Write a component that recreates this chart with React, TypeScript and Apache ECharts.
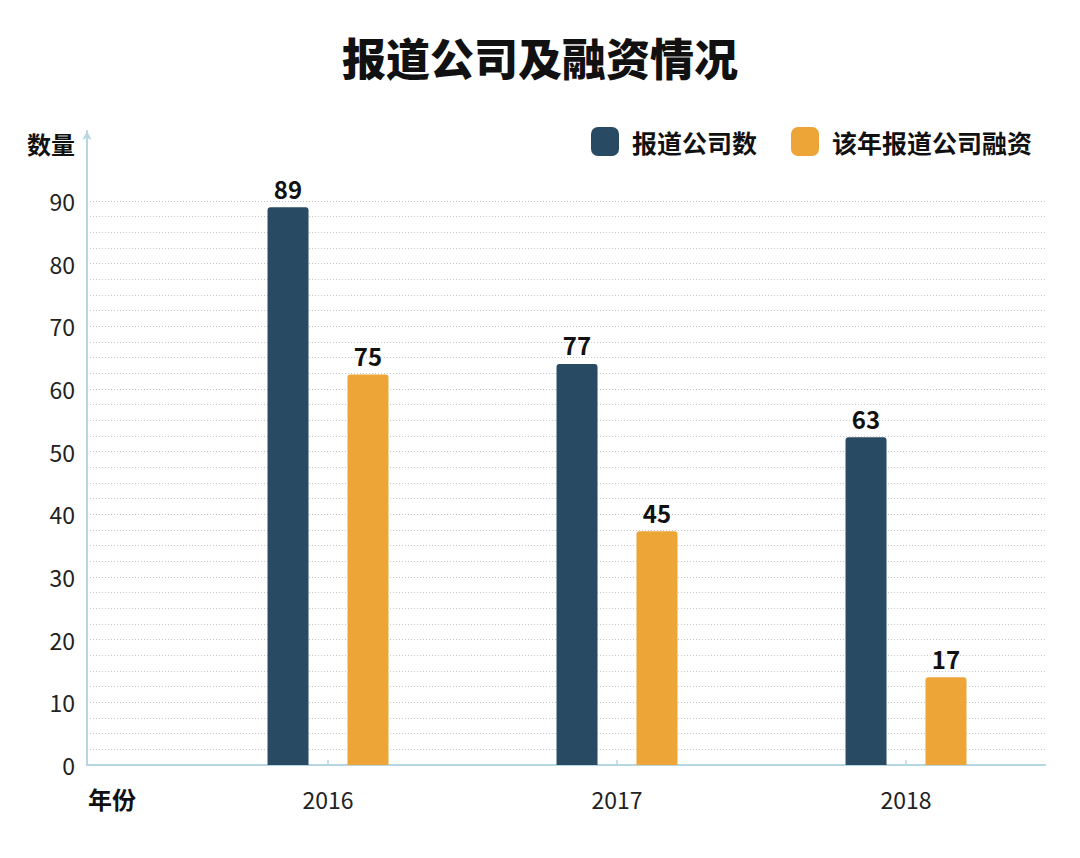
import React, { useEffect, useRef } from "react";
import * as echarts from "echarts";

const categories = ["2016", "2017", "2018"];
// bar heights as drawn in the picture
const companiesBar = [89, 64, 52.3];
const fundedBar = [62.3, 37.3, 14];
// values printed above the bars
const companiesLabel = [89, 77, 63];
const fundedLabel = [75, 45, 17];
const seriesNames = ["报道公司数", "该年报道公司融资"];
const yTicks = { min: 0, max: 90, interval: 10 };

const FONT = '"Noto Sans CJK SC", "Noto Sans", sans-serif';
const AXIS_COLOR = "#b7d6e4";
const DARK = "#284b63";
const ORANGE = "#eca536";

export default function App() {
  const ref = useRef<HTMLDivElement>(null);
  useEffect(() => {
    if (!ref.current) return;
    const chart = echarts.init(ref.current, null, { renderer: "svg" });
    const gridTop = 201;
    const gridBottom = 93;
    chart.setOption({
      animation: false,
      backgroundColor: "#ffffff",
      textStyle: { fontFamily: FONT },
      title: {
        text: "报道公司及融资情况",
        left: "center",
        top: 30,
        textStyle: { fontFamily: FONT, fontSize: 44, fontWeight: 900, color: "#111" },
      },
      legend: {
        right: 43,
        top: 122,
        itemWidth: 28,
        itemHeight: 29,
        itemGap: 34,
        icon: "roundRect",
        data: seriesNames,
        textStyle: { fontFamily: FONT, fontSize: 25, fontWeight: "bold", color: "#111", padding: [0, 0, 0, 8] },
      },
      graphic: [
        {
          type: "text",
          left: 88,
          top: 786,
          style: { text: "年份", font: `bold 24px ${FONT}`, fill: "#111" },
        },
      ],
      grid: [
        { left: 87, right: 35, top: 131, bottom: gridBottom },
        { left: 87, right: 35, top: gridTop, bottom: gridBottom },
        { left: 183.5, right: 29.5, top: gridTop, bottom: gridBottom },
      ],
      xAxis: [
        {
          gridIndex: 0, type: "value", min: 0, max: 1,
          axisLine: { show: true, lineStyle: { color: AXIS_COLOR, width: 2 } },
          axisTick: { show: false }, axisLabel: { show: false }, splitLine: { show: false },
        },
        {
          gridIndex: 1, type: "value", min: 0, max: 1, show: false,
        },
        {
          gridIndex: 2, type: "category", data: categories,
          axisLine: { show: false },
          axisTick: { show: true, inside: true, alignWithLabel: true, length: 5, lineStyle: { color: AXIS_COLOR, width: 1.5 } },
          axisLabel: { margin: 22, fontSize: 23, color: "#222", fontFamily: FONT },
        },
      ],
      yAxis: [
        {
          gridIndex: 0, type: "value", min: 0, max: 1,
          axisLine: { show: true, symbol: ["none", "arrow"], symbolSize: [7, 9], lineStyle: { color: AXIS_COLOR, width: 2 } },
          axisTick: { show: false }, axisLabel: { show: false }, splitLine: { show: false },
        },
        {
          gridIndex: 1, type: "value", min: yTicks.min, max: yTicks.max, interval: yTicks.interval,
          name: "数量",
          nameLocation: "end",
          nameGap: 46,
          nameTextStyle: { fontFamily: FONT, fontSize: 24, fontWeight: "bold", color: "#111", align: "right", padding: [0, 12, 0, 0] },
          axisLine: { show: false },
          axisTick: { show: false },
          axisLabel: { margin: 12, fontSize: 23, color: "#222", fontFamily: FONT },
          splitLine: { show: true, lineStyle: { color: "#c2c2c2", type: [1, 2], width: 1 } },
          minorTick: { show: false, splitNumber: 4 },
          minorSplitLine: { show: true, lineStyle: { color: "#c8c8c8", type: [1, 2], width: 1 } },
        },
        {
          gridIndex: 2, type: "value", min: yTicks.min, max: yTicks.max, show: false,
        },
      ],
      series: [
        {
          name: seriesNames[0],
          type: "bar",
          xAxisIndex: 2,
          yAxisIndex: 2,
          data: companiesBar,
          barWidth: 41,
          barGap: "95%",
          itemStyle: { color: DARK, borderRadius: [3, 3, 0, 0] },
          label: {
            show: true, position: "top", distance: 7,
            fontSize: 24, fontWeight: "bold", color: "#111", fontFamily: FONT,
            formatter: (p: any) => String(companiesLabel[p.dataIndex]),
          },
        },
        {
          name: seriesNames[1],
          type: "bar",
          xAxisIndex: 2,
          yAxisIndex: 2,
          data: fundedBar,
          barWidth: 41,
          barGap: "95%",
          itemStyle: { color: ORANGE, borderRadius: [3, 3, 0, 0] },
          label: {
            show: true, position: "top", distance: 7,
            fontSize: 24, fontWeight: "bold", color: "#111", fontFamily: FONT,
            formatter: (p: any) => String(fundedLabel[p.dataIndex]),
          },
        },
      ],
    });
    return () => chart.dispose();
  }, []);
  return (
    <div
      ref={ref}
      style={{ position: "fixed", left: 0, top: 0, width: 1080, height: 858, background: "#fff" }}
    />
  );
}
